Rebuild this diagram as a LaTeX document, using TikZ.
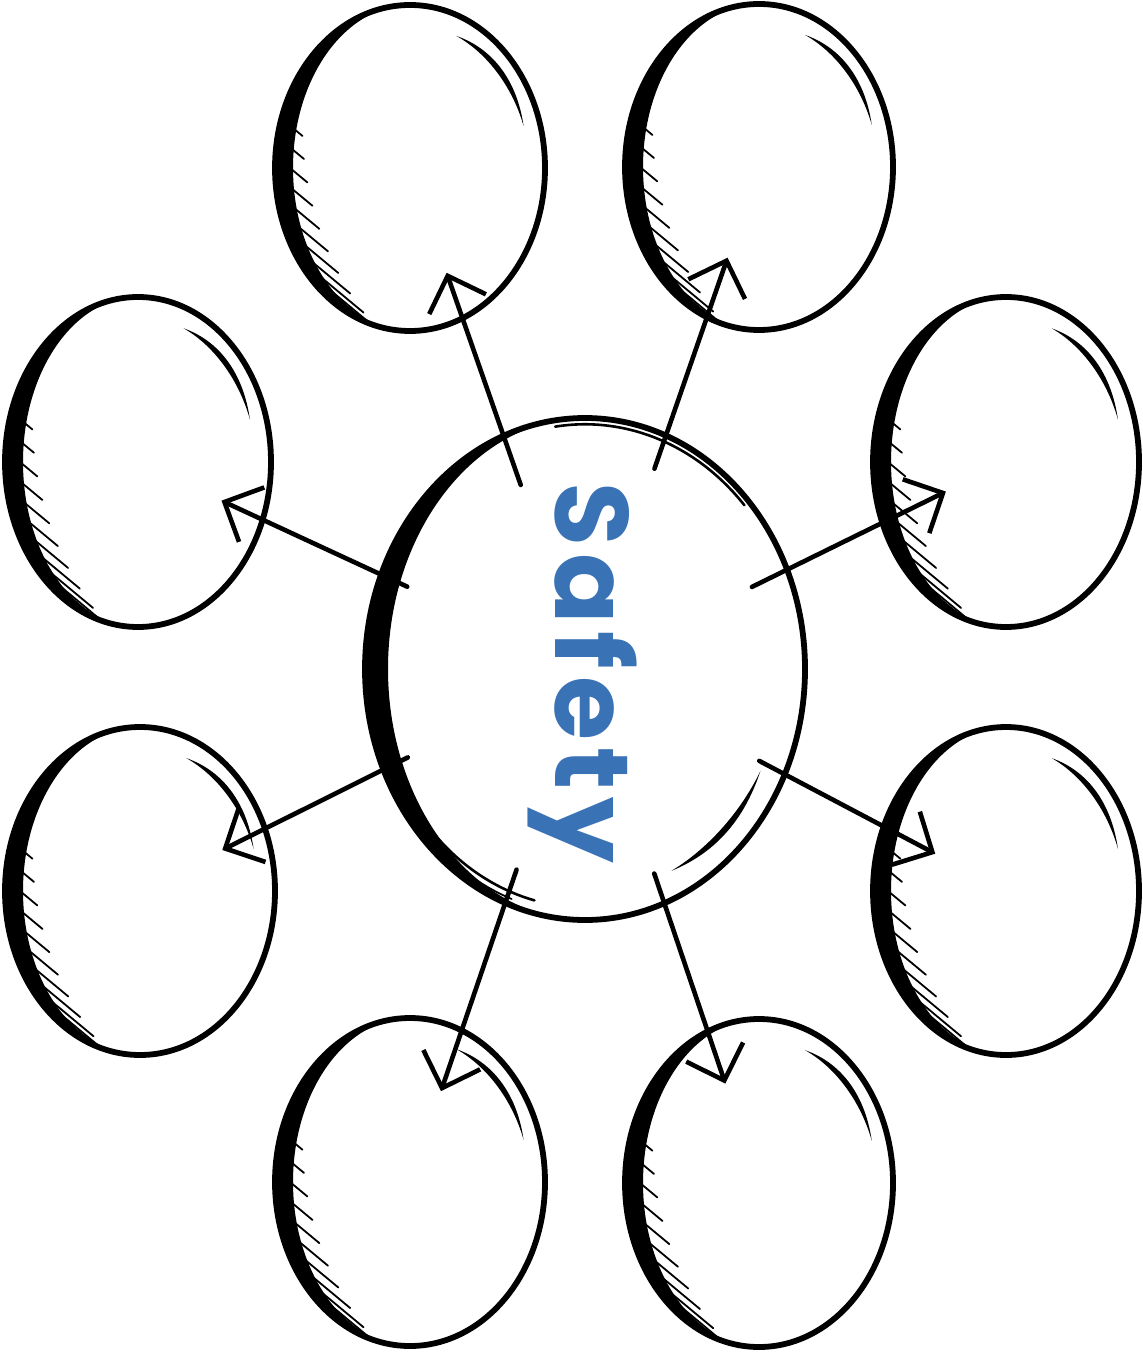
\documentclass[tikz,border=0pt]{standalone}
\usepackage{fontspec}
\newfontfamily\safetyfont{Poppins}[LetterSpace=7]
\usetikzlibrary{arrows.meta,shapes.geometric}
\definecolor{safetyblue}{RGB}{58,114,182}
\tikzset{
  outline/.style={draw=black, line width=2.9pt},
  hatchline/.style={black, line width=0.9pt, line cap=round},
  link/.style={black, line width=2.3pt, line cap=round, -{Straight Barb[length=15pt,width=30pt,line width=2.3pt]}},
  sketchstroke/.style={black, line width=1.3pt, line cap=round},
}
\newcommand\sketchball[5]{%
  \node[ellipse, inner sep=0pt, minimum width=#4pt, minimum height=#5pt] (#1) at (#2,#3) {};
  \begin{scope}[shift={(#2,#3)}]
    \begin{scope}
      \clip (-#4-20,-#5-20) rectangle (0,#5+20);
      \fill[even odd rule] (0,0) ellipse[x radius=#4, y radius=#5] (0,0) ellipse[x radius=#4-18, y radius=#5];
    \end{scope}
    \begin{scope}
      \clip (0,0) ellipse[x radius=#4-2, y radius=#5-2];
      \foreach \t [count=\i] in {194,187,...,124} {
        \draw[hatchline] ({(#4-15)*cos(\t)},{#5*sin(\t)}) -- ++({0.77*(6+5.5*\i)},{0.64*(6+5.5*\i)});
      }
    \end{scope}
    \draw[outline] (0,0) ellipse[x radius=#4, y radius=#5];
    \fill plot[domain=-67:-17, samples=30] ({(0.88+0.03*sin(3.6*(\x+67)))*#4*cos(\x)}, {(0.88+0.03*sin(3.6*(\x+67)))*#5*sin(\x)})
      -- plot[domain=-17:-67, samples=30] ({(0.88-0.008*sin(3.6*(\x+67)))*#4*cos(\x)}, {(0.88-0.008*sin(3.6*(\x+67)))*#5*sin(\x)}) -- cycle;
  \end{scope}
}
\begin{document}
\begin{tikzpicture}[x=0.5pt, y=-0.5pt]
\useasboundingbox (0,0) rectangle (1143,1352);

% central ellipse
\node[ellipse, inner sep=0pt, minimum width=220pt, minimum height=251pt] (c) at (585,669) {};
\begin{scope}[shift={(585,669)}]
  \begin{scope}
    \clip (-250,-280) rectangle (0,280);
    \fill[even odd rule] (0,0) ellipse[x radius=220, y radius=251] (0,0) ellipse[x radius=197, y radius=251];
  \end{scope}
  \draw[outline] (0,0) ellipse[x radius=220, y radius=251];
  \draw[sketchstroke] (-98:{0.975*220} and {0.975*251}) arc[start angle=-98, end angle=-42, x radius={0.975*220}, y radius={0.975*251}];
  \draw[sketchstroke] (160:{0.95*220} and {0.95*251}) arc[start angle=160, end angle=104, x radius={0.95*220}, y radius={0.95*251}];
  \draw[sketchstroke, line width=0.9pt] (150:{0.975*220} and {0.975*251}) arc[start angle=150, end angle=110, x radius={0.975*220}, y radius={0.975*251}];
  \fill plot[domain=27:64, samples=30] ({(0.895+0.02*sin(4.865*(\x-27)))*220*cos(\x)}, {(0.895+0.02*sin(4.865*(\x-27)))*251*sin(\x)})
    -- plot[domain=64:27, samples=30] ({(0.895-0.006*sin(4.865*(\x-27)))*220*cos(\x)}, {(0.895-0.006*sin(4.865*(\x-27)))*251*sin(\x)}) -- cycle;
\end{scope}
\node[rotate=-90, text=safetyblue, font=\safetyfont\bfseries\fontsize{52}{52}\selectfont, inner sep=0pt] (t) at (582,673) {Safety};

% surrounding ellipses
\sketchball{e1}{410}{168}{135}{163}
\sketchball{e2}{759}{167}{134}{163}
\sketchball{e3}{138}{462}{133}{165}
\sketchball{e4}{1006}{462}{133}{165}
\sketchball{e5}{140}{891}{135}{164}
\sketchball{e6}{1006}{891}{133}{164}
\sketchball{e7}{410}{1182}{135}{164}
\sketchball{e8}{759}{1183}{134}{164}

% connectors
\draw[link, shorten <=97.5pt, shorten >=55.5pt] (c.center) -- (e1.center);
\draw[link, shorten <=106pt, shorten >=48pt] (c.center) -- (e2.center);
\draw[link, shorten <=98pt, shorten >=46pt] (c.center) -- (e3.center);
\draw[link, shorten <=93pt, shorten >=33.5pt] (c.center) -- (e4.center);
\draw[link, shorten <=99pt, shorten >=46pt] (c.center) -- (e5.center);
\draw[link, shorten <=98.5pt, shorten >=40pt] (c.center) -- (e6.center);
\draw[link, shorten <=106pt, shorten >=48pt] (c.center) -- (e7.center);
\draw[link, shorten <=108pt, shorten >=52.5pt] (c.center) -- (e8.center);
\end{tikzpicture}
\end{document}
